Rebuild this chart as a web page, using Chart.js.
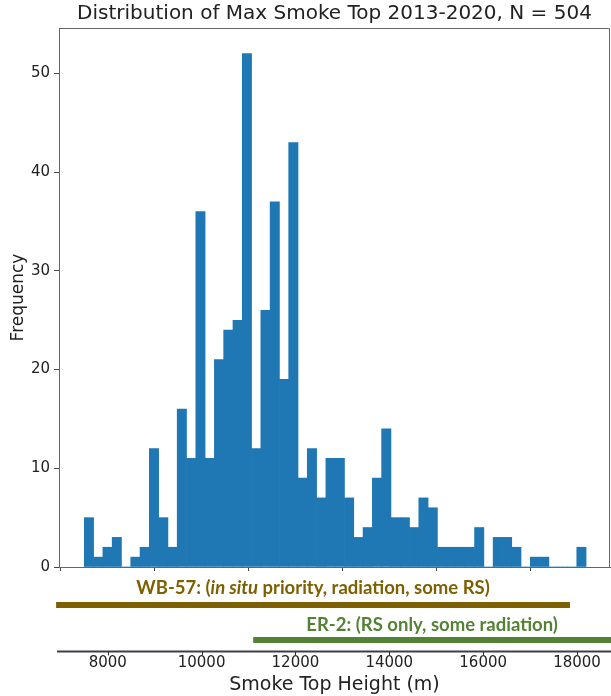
<!DOCTYPE html>
<html>
<head>
<meta charset="utf-8">
<script src="https://cdn.jsdelivr.net/npm/chart.js@4.4.1/dist/chart.umd.min.js"></script>
<style>
  html, body { margin: 0; padding: 0; background: #fff; }
</style>
</head>
<body>
<canvas id="histChart" width="611" height="696"></canvas>
<script>
// histogram of max smoke top height (m), 54 equal bins
const binStart = 7501;
const binWidth = 198;
const counts = [5, 1, 2, 3, 0, 1, 2, 12, 5, 2, 16, 11, 36, 11, 21, 24, 25, 52, 12, 26,
  37, 19, 43, 9, 12, 7, 11, 11, 7, 3, 4, 9, 14, 5, 5, 4, 7, 6, 2, 2,
  2, 2, 4, 0, 3, 3, 2, 0, 1, 1, 0, 0, 0, 2];
const xTicks = [8000, 10000, 12000, 14000, 16000, 18000];
const yTicks = [0, 10, 20, 30, 40, 50];

// aircraft altitude coverage (m)
const wb57Range = [6900, 17850];
const er2Range = [11100, 18800];

const WB_COLOR = "#7f6000";
const ER_COLOR = "#548235";
const TEXT_COLOR = "#222";
const LABEL_FONT = "Lato, 'Open Sans', sans-serif";

document.addEventListener("DOMContentLoaded", function () {
  const ctx = document.getElementById("histChart").getContext("2d");

  const points = counts.map((c, i) => ({ x: binStart + binWidth * (i + 0.5), y: c }));

  // draws several bold pieces (some italic) centred on cx
  function drawPieces(c, pieces, cx, cy, size, color) {
    let total = 0;
    pieces.forEach((p) => {
      c.font = (p.italic ? "italic " : "") + "bold " + size + "px " + LABEL_FONT;
      p.w = c.measureText(p.text).width;
      total += p.w;
    });
    let x = cx - total / 2;
    c.fillStyle = color;
    c.textBaseline = "middle";
    c.textAlign = "left";
    pieces.forEach((p) => {
      c.font = (p.italic ? "italic " : "") + "bold " + size + "px " + LABEL_FONT;
      c.fillText(p.text, x, cy);
      x += p.w;
    });
  }

  const extras = {
    id: "extras",
    afterDraw(chart) {
      const c = chart.ctx;
      const area = chart.chartArea;
      const xs = chart.scales.x;
      c.save();

      // top + right spines
      c.strokeStyle = "#666";
      c.lineWidth = 1;
      c.beginPath();
      c.moveTo(area.left, area.top + 0.5);
      c.lineTo(area.right - 0.5, area.top + 0.5);
      c.lineTo(area.right - 0.5, area.bottom);
      c.stroke();

      // WB-57 coverage
      const wbL = xs.getPixelForValue(wb57Range[0]);
      const wbR = xs.getPixelForValue(wb57Range[1]);
      drawPieces(c, [
        { text: "WB-57: (" },
        { text: "in situ", italic: true },
        { text: " priority, radiation, some RS)" },
      ], (wbL + wbR) / 2, area.bottom + 21, 18.5, WB_COLOR);
      c.strokeStyle = WB_COLOR;
      c.lineWidth = 6;
      c.beginPath();
      c.moveTo(wbL, area.bottom + 38);
      c.lineTo(wbR, area.bottom + 38);
      c.stroke();

      // ER-2 coverage
      const erL = xs.getPixelForValue(er2Range[0]);
      const erR = Math.min(xs.getPixelForValue(er2Range[1]), chart.width);
      drawPieces(c, [{ text: "ER-2: (RS only, some radiation)" }],
        (erL + erR) / 2, area.bottom + 58, 18.5, ER_COLOR);
      c.strokeStyle = ER_COLOR;
      c.beginPath();
      c.moveTo(erL, area.bottom + 73);
      c.lineTo(erR, area.bottom + 73);
      c.stroke();

      // lower copy of the x axis line with its ticks
      const axY = area.bottom + 84.5;
      c.strokeStyle = "#3a3f48";
      c.lineWidth = 2;
      c.beginPath();
      c.moveTo(area.left - 2, axY);
      c.lineTo(chart.width, axY);
      c.stroke();
      c.lineWidth = 1;
      c.strokeStyle = "#333";
      xTicks.forEach((v) => {
        const px = Math.round(xs.getPixelForValue(v)) + 0.5;
        c.beginPath();
        c.moveTo(px, axY);
        c.lineTo(px, axY + 4);
        c.stroke();
      });
      c.restore();
    },
  };

  new Chart(ctx, {
    type: "bar",
    data: {
      datasets: [
        {
          label: "Frequency",
          data: points,
          backgroundColor: "#1f77b4",
          borderWidth: 0,
          barPercentage: 1,
          categoryPercentage: 1,
        },
      ],
    },
    options: {
      responsive: false,
      animation: false,
      devicePixelRatio: 1,
      layout: { padding: { right: 1 } },
      plugins: {
        legend: { display: false },
        tooltip: { enabled: false },
        title: {
          display: true,
          fullSize: false,
          text: "Distribution of Max Smoke Top 2013-2020, N = 504",
          color: TEXT_COLOR,
          font: { family: "'DejaVu Sans'", size: 20, weight: "normal" },
          padding: { top: 2, bottom: 2 },
        },
      },
      scales: {
        x: {
          type: "linear",
          offset: false,
          min: 6962,
          max: 18703,
          afterBuildTicks: (scale) => {
            scale.ticks = xTicks.map((v) => ({ value: v }));
          },
          afterFit: (scale) => {
            // labels sit far below the axis; keep that padding off the sides
            scale.height = 129;
            scale.paddingLeft = 0;
            scale.paddingRight = 0;
          },
          ticks: {
            color: TEXT_COLOR,
            font: { family: "'DejaVu Sans'", size: 15 },
            padding: 83.5,
            maxRotation: 0,
            callback: (v) => String(v),
          },
          grid: {
            drawOnChartArea: false,
            drawTicks: true,
            tickLength: 4,
            color: "#444",
          },
          border: { display: true, color: "#666", width: 1 },
          title: {
            display: true,
            text: "Smoke Top Height (m)",
            color: TEXT_COLOR,
            font: { family: "'DejaVu Sans'", size: 19 },
            padding: { top: 0, bottom: 0 },
          },
        },
        y: {
          min: 0,
          max: 54.6,
          afterBuildTicks: (scale) => {
            scale.ticks = yTicks.map((v) => ({ value: v }));
          },
          afterFit: (scale) => {
            scale.width = 59;
          },
          ticks: {
            color: TEXT_COLOR,
            font: { family: "'DejaVu Sans'", size: 15 },
            padding: 4,
          },
          grid: {
            drawOnChartArea: false,
            drawTicks: true,
            tickLength: 5,
            color: "#444",
          },
          border: { display: true, color: "#666", width: 1 },
          title: {
            display: true,
            text: "Frequency",
            color: TEXT_COLOR,
            font: { family: "'DejaVu Sans'", size: 17 },
            padding: { top: 8, bottom: 0 },
          },
        },
      },
    },
    plugins: [extras],
  });
});
</script>
</body>
</html>
